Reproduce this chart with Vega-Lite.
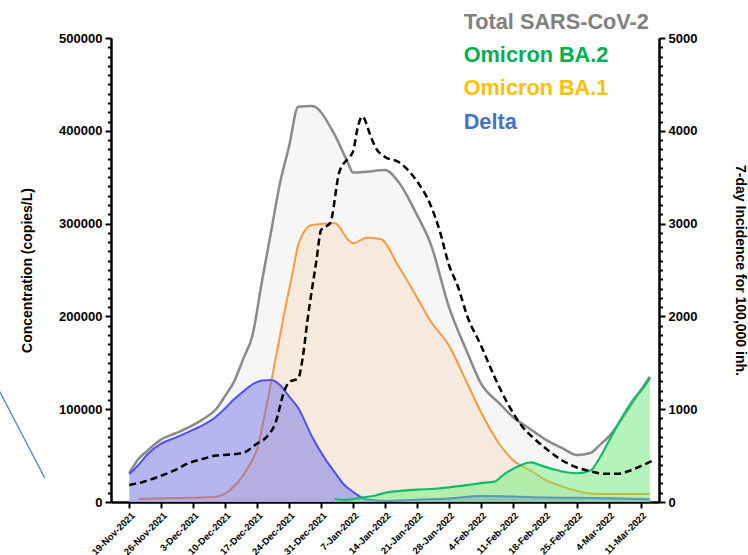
{
  "$schema": "https://vega.github.io/schema/vega-lite/v6.json",
  "width": 548,
  "height": 464,
  "autosize": "none",
  "padding": {"left": 111, "top": 38, "right": 89, "bottom": 53},
  "config": {
    "view": {"stroke": null},
    "font": "Liberation Sans",
    "axis": {"domainColor": "#000", "tickColor": "#000", "labelColor": "#000", "titleColor": "#000", "labelFontWeight": "bold", "titleFontWeight": "bold", "grid": false, "labelFont": "Liberation Sans", "titleFont": "Liberation Sans"}
  },
  "datasets": {
    "total": [
      {"date": "2021-11-19", "value": 31000}, {"date": "2021-11-21", "value": 46300}, {"date": "2021-11-23", "value": 55400},
      {"date": "2021-11-26", "value": 67500}, {"date": "2021-11-29", "value": 73800}, {"date": "2021-12-02", "value": 80300},
      {"date": "2021-12-05", "value": 88800}, {"date": "2021-12-08", "value": 99900}, {"date": "2021-12-10", "value": 114300},
      {"date": "2021-12-12", "value": 130300}, {"date": "2021-12-14", "value": 154800}, {"date": "2021-12-16", "value": 180000},
      {"date": "2021-12-18", "value": 236200}, {"date": "2021-12-20", "value": 289900}, {"date": "2021-12-22", "value": 343400},
      {"date": "2021-12-24", "value": 383400}, {"date": "2021-12-26", "value": 426000}, {"date": "2021-12-29", "value": 426700},
      {"date": "2022-01-03", "value": 395500}, {"date": "2022-01-06", "value": 364200}, {"date": "2022-01-07", "value": 355000},
      {"date": "2022-01-10", "value": 356000}, {"date": "2022-01-14", "value": 357700}, {"date": "2022-01-17", "value": 344600},
      {"date": "2022-01-21", "value": 309400}, {"date": "2022-01-24", "value": 278200}, {"date": "2022-01-28", "value": 210200},
      {"date": "2022-02-01", "value": 161400}, {"date": "2022-02-04", "value": 127800}, {"date": "2022-02-08", "value": 106500},
      {"date": "2022-02-11", "value": 91600}, {"date": "2022-02-15", "value": 77900}, {"date": "2022-02-18", "value": 67700},
      {"date": "2022-02-22", "value": 57500}, {"date": "2022-02-25", "value": 50600}, {"date": "2022-02-28", "value": 52800},
      {"date": "2022-03-02", "value": 61300}, {"date": "2022-03-04", "value": 70500}, {"date": "2022-03-07", "value": 90300},
      {"date": "2022-03-10", "value": 113000}, {"date": "2022-03-13", "value": 135000}
    ],
    "ba1": [
      {"date": "2021-11-21", "value": 3200}, {"date": "2021-11-26", "value": 4000}, {"date": "2021-12-02", "value": 4500},
      {"date": "2021-12-08", "value": 5700}, {"date": "2021-12-12", "value": 17200}, {"date": "2021-12-15", "value": 37300},
      {"date": "2021-12-17", "value": 57100}, {"date": "2021-12-19", "value": 102500}, {"date": "2021-12-21", "value": 153300},
      {"date": "2021-12-23", "value": 204700}, {"date": "2021-12-25", "value": 252900}, {"date": "2021-12-26", "value": 277000},
      {"date": "2021-12-29", "value": 298500}, {"date": "2022-01-03", "value": 300300}, {"date": "2022-01-06", "value": 282300},
      {"date": "2022-01-07", "value": 278800}, {"date": "2022-01-10", "value": 284800}, {"date": "2022-01-13", "value": 283400},
      {"date": "2022-01-17", "value": 253800}, {"date": "2022-01-21", "value": 220500}, {"date": "2022-01-24", "value": 194700},
      {"date": "2022-01-28", "value": 168500}, {"date": "2022-02-01", "value": 128000}, {"date": "2022-02-04", "value": 97000},
      {"date": "2022-02-08", "value": 62800}, {"date": "2022-02-11", "value": 45300}, {"date": "2022-02-15", "value": 33400},
      {"date": "2022-02-18", "value": 24100}, {"date": "2022-02-22", "value": 16300}, {"date": "2022-02-25", "value": 11900},
      {"date": "2022-03-01", "value": 8600}, {"date": "2022-03-13", "value": 8600}
    ],
    "delta": [
      {"date": "2021-11-19", "value": 30000}, {"date": "2021-11-21", "value": 39900}, {"date": "2021-11-23", "value": 51500},
      {"date": "2021-11-26", "value": 63000}, {"date": "2021-11-29", "value": 69100}, {"date": "2021-12-02", "value": 75600},
      {"date": "2021-12-05", "value": 82500}, {"date": "2021-12-08", "value": 91900}, {"date": "2021-12-10", "value": 101000},
      {"date": "2021-12-12", "value": 110900}, {"date": "2021-12-14", "value": 119200}, {"date": "2021-12-16", "value": 126900},
      {"date": "2021-12-18", "value": 130900}, {"date": "2021-12-20", "value": 131500}, {"date": "2021-12-22", "value": 126100},
      {"date": "2021-12-24", "value": 113700}, {"date": "2021-12-26", "value": 101300}, {"date": "2021-12-29", "value": 70500},
      {"date": "2022-01-01", "value": 45700}, {"date": "2022-01-03", "value": 32000}, {"date": "2022-01-05", "value": 18800},
      {"date": "2022-01-07", "value": 11000}, {"date": "2022-01-10", "value": 2700}, {"date": "2022-01-14", "value": 1100},
      {"date": "2022-01-21", "value": 2500}, {"date": "2022-01-28", "value": 3800}, {"date": "2022-02-04", "value": 6500},
      {"date": "2022-02-11", "value": 5900}, {"date": "2022-02-18", "value": 4800}, {"date": "2022-02-25", "value": 4500},
      {"date": "2022-03-04", "value": 4100}, {"date": "2022-03-13", "value": 3000}
    ],
    "ba2": [
      {"date": "2022-01-03", "value": 3200}, {"date": "2022-01-05", "value": 2200}, {"date": "2022-01-09", "value": 4800},
      {"date": "2022-01-12", "value": 7000}, {"date": "2022-01-14", "value": 10000}, {"date": "2022-01-18", "value": 12200},
      {"date": "2022-01-21", "value": 13300}, {"date": "2022-01-25", "value": 14300}, {"date": "2022-01-28", "value": 15700},
      {"date": "2022-02-01", "value": 18200}, {"date": "2022-02-04", "value": 20300}, {"date": "2022-02-07", "value": 21900},
      {"date": "2022-02-09", "value": 29600}, {"date": "2022-02-11", "value": 35600}, {"date": "2022-02-15", "value": 42800},
      {"date": "2022-02-17", "value": 39600}, {"date": "2022-02-20", "value": 35100}, {"date": "2022-02-23", "value": 31800},
      {"date": "2022-02-25", "value": 31000}, {"date": "2022-02-28", "value": 33900}, {"date": "2022-03-02", "value": 47400},
      {"date": "2022-03-04", "value": 65400}, {"date": "2022-03-07", "value": 92100}, {"date": "2022-03-10", "value": 114200},
      {"date": "2022-03-11", "value": 119600}, {"date": "2022-03-13", "value": 133600}
    ],
    "incidence": [
      {"date": "2021-11-19", "value": 183}, {"date": "2021-11-22", "value": 216}, {"date": "2021-11-26", "value": 283},
      {"date": "2021-11-29", "value": 343}, {"date": "2021-12-02", "value": 419}, {"date": "2021-12-05", "value": 463},
      {"date": "2021-12-08", "value": 500}, {"date": "2021-12-11", "value": 511}, {"date": "2021-12-14", "value": 531},
      {"date": "2021-12-17", "value": 630}, {"date": "2021-12-19", "value": 697}, {"date": "2021-12-21", "value": 851},
      {"date": "2021-12-23", "value": 1204}, {"date": "2021-12-24", "value": 1293}, {"date": "2021-12-26", "value": 1333},
      {"date": "2021-12-27", "value": 1562}, {"date": "2021-12-28", "value": 1950}, {"date": "2021-12-30", "value": 2608},
      {"date": "2021-12-31", "value": 2931}, {"date": "2022-01-02", "value": 3006}, {"date": "2022-01-04", "value": 3556},
      {"date": "2022-01-06", "value": 3707}, {"date": "2022-01-07", "value": 3775}, {"date": "2022-01-08", "value": 4030},
      {"date": "2022-01-09", "value": 4154}, {"date": "2022-01-11", "value": 3923}, {"date": "2022-01-12", "value": 3815},
      {"date": "2022-01-14", "value": 3718}, {"date": "2022-01-17", "value": 3664}, {"date": "2022-01-19", "value": 3578},
      {"date": "2022-01-21", "value": 3457}, {"date": "2022-01-24", "value": 3196}, {"date": "2022-01-26", "value": 2920},
      {"date": "2022-01-28", "value": 2555}, {"date": "2022-01-30", "value": 2317}, {"date": "2022-02-01", "value": 2004},
      {"date": "2022-02-04", "value": 1689}, {"date": "2022-02-07", "value": 1346}, {"date": "2022-02-10", "value": 1049},
      {"date": "2022-02-13", "value": 817}, {"date": "2022-02-16", "value": 668}, {"date": "2022-02-19", "value": 546},
      {"date": "2022-02-22", "value": 442}, {"date": "2022-02-25", "value": 372}, {"date": "2022-02-28", "value": 331},
      {"date": "2022-03-03", "value": 304}, {"date": "2022-03-06", "value": 304}, {"date": "2022-03-09", "value": 345},
      {"date": "2022-03-12", "value": 409}, {"date": "2022-03-14", "value": 453}
    ],
    "stray": [
      {"date": "2021-10-21T00:00:00Z", "value": 125000}, {"date": "2021-10-31T12:00:00Z", "value": 25900}
    ],
    "legend": [
      {"name": "Total SARS-CoV-2"}, {"name": "Omicron BA.2"}, {"name": "Omicron BA.1"}, {"name": "Delta"}
    ]
  },
  "encoding": {
    "x": {"field": "date", "type": "temporal", "title": null,
      "scale": {"type": "utc", "domain": [{"year": 2021, "month": 11, "date": 15, "utc": true}, {"year": 2022, "month": 3, "date": 15, "utc": true}]},
      "axis": {
        "values": [
          {"year": 2021, "month": 11, "date": 19, "utc": true}, {"year": 2021, "month": 11, "date": 26, "utc": true},
          {"year": 2021, "month": 12, "date": 3, "utc": true}, {"year": 2021, "month": 12, "date": 10, "utc": true},
          {"year": 2021, "month": 12, "date": 17, "utc": true}, {"year": 2021, "month": 12, "date": 24, "utc": true},
          {"year": 2021, "month": 12, "date": 31, "utc": true}, {"year": 2022, "month": 1, "date": 7, "utc": true},
          {"year": 2022, "month": 1, "date": 14, "utc": true}, {"year": 2022, "month": 1, "date": 21, "utc": true},
          {"year": 2022, "month": 1, "date": 28, "utc": true}, {"year": 2022, "month": 2, "date": 4, "utc": true},
          {"year": 2022, "month": 2, "date": 11, "utc": true}, {"year": 2022, "month": 2, "date": 18, "utc": true},
          {"year": 2022, "month": 2, "date": 25, "utc": true}, {"year": 2022, "month": 3, "date": 4, "utc": true},
          {"year": 2022, "month": 3, "date": 11, "utc": true}
        ],
        "format": "%-d-%b-%Y", "labelAngle": -45, "labelFontSize": 9.5, "tickSize": 6, "tickWidth": 2,
        "domainWidth": 2.5, "labelPadding": 2, "labelOverlap": false, "labelBound": false, "labelFlush": false
      }
    }
  },
  "layer": [
    {
      "encoding": {
        "y": {"field": "value", "type": "quantitative", "stack": null,
          "scale": {"domain": [0, 500000], "nice": false, "zero": true},
          "axis": {
            "title": "Concentration (copies/L)",
            "values": [0,10000,20000,30000,40000,50000,60000,70000,80000,90000,100000,110000,120000,130000,140000,150000,160000,170000,180000,190000,200000,210000,220000,230000,240000,250000,260000,270000,280000,290000,300000,310000,320000,330000,340000,350000,360000,370000,380000,390000,400000,410000,420000,430000,440000,450000,460000,470000,480000,490000,500000],
            "format": "d",
            "labelExpr": "datum.value % 100000 === 0 ? datum.label : ''",
            "tickSize": {"condition": {"test": "datum.value % 100000 === 0", "value": 6}, "value": 3.5},
            "tickWidth": 2, "domainWidth": 2.5, "labelFontSize": 13, "labelPadding": 3, "labelOverlap": false,
            "titleFontSize": 14, "titlePadding": 24
          }
        }
      },
      "layer": [
        {
          "data": {"name": "total"},
          "mark": {"type": "area", "color": "#f2f2f2", "interpolate": "monotone", "line": {"color": "#8a8a8a", "strokeWidth": 2.5}}
        },
        {
          "data": {"name": "ba1"},
          "mark": {"type": "area", "color": "#f6e6d6", "interpolate": "monotone", "line": {"color": "#ff9a3c", "strokeWidth": 2}}
        },
        {
          "data": {"name": "delta"},
          "mark": {"type": "area", "color": "#5a5ae6", "opacity": 0.42, "interpolate": "monotone", "line": {"color": "#5050f0", "strokeWidth": 2}}
        },
        {
          "data": {"name": "ba2"},
          "mark": {"type": "area", "color": "#64f06e", "opacity": 0.45, "interpolate": "monotone", "line": {"color": "#14b86c", "strokeWidth": 2.2}}
        },
        {
          "data": {"name": "stray"},
          "mark": {"type": "line", "color": "#4f81bd", "strokeWidth": 1.3, "clip": false}
        }
      ]
    },
    {
      "data": {"name": "incidence"},
      "mark": {"type": "line", "color": "#000000", "strokeWidth": 2.5, "strokeDash": [7, 4], "interpolate": "monotone"},
      "encoding": {
        "y": {"field": "value", "type": "quantitative",
          "scale": {"domain": [0, 5000], "nice": false},
          "axis": {
            "orient": "right",
            "title": "7-day Incidence for 100,000 inh.",
            "values": [0,100,200,300,400,500,600,700,800,900,1000,1100,1200,1300,1400,1500,1600,1700,1800,1900,2000,2100,2200,2300,2400,2500,2600,2700,2800,2900,3000,3100,3200,3300,3400,3500,3600,3700,3800,3900,4000,4100,4200,4300,4400,4500,4600,4700,4800,4900,5000],
            "format": "d",
            "labelExpr": "datum.value % 1000 === 0 ? datum.label : ''",
            "tickSize": {"condition": {"test": "datum.value % 1000 === 0", "value": 6}, "value": 3.5},
            "tickWidth": 2, "domainWidth": 2.5, "labelFontSize": 13, "labelPadding": 3, "labelOverlap": false,
            "titleFontSize": 14, "titlePadding": 36
          }
        }
      }
    },
    {
      "data": {"name": "legend"},
      "mark": {"type": "point", "opacity": 0},
      "encoding": {
        "x": {"value": 0},
        "color": {"field": "name", "type": "nominal",
          "scale": {"domain": ["Total SARS-CoV-2", "Omicron BA.2", "Omicron BA.1", "Delta"], "range": ["#808080", "#00b050", "#ffc000", "#4472c4"]},
          "legend": {
            "orient": "none", "legendX": 331, "legendY": -27, "title": null, "padding": 0,
            "symbolSize": 0, "symbolStrokeWidth": 0, "symbolOpacity": 0, "labelOffset": 0,
            "labelFont": "Liberation Sans", "labelFontSize": 21.7, "labelFontWeight": "bold", "labelLimit": 400, "rowPadding": 10.3,
            "labelColor": {"expr": "datum.value === 'Total SARS-CoV-2' ? '#808080' : datum.value === 'Omicron BA.2' ? '#00b050' : datum.value === 'Omicron BA.1' ? '#ffc000' : '#4472c4'"}
          }
        }
      }
    }
  ],
  "resolve": {"scale": {"y": "independent"}}
}
